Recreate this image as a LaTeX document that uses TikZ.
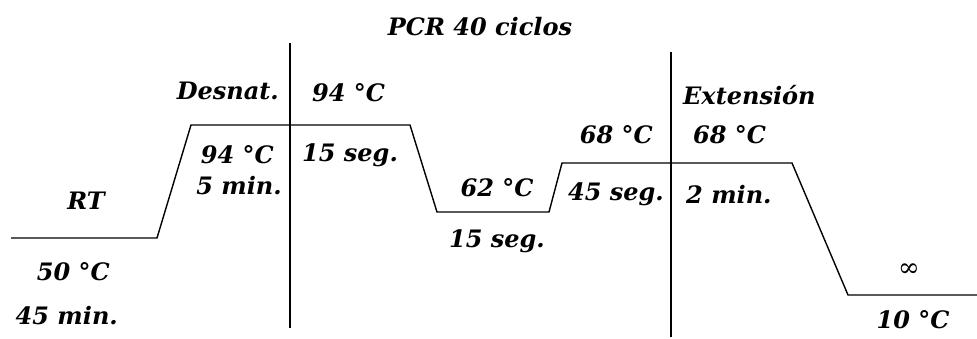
\documentclass[tikz,border=0pt]{standalone}
\usepackage{fontspec}
\setmainfont{DejaVu Serif}
\begin{document}
\begin{tikzpicture}[x=1pt,y=-1pt,
  lbl/.style={inner sep=0pt, font=\fontsize{24}{26}\selectfont\bfseries\itshape},
  prof/.style={line width=1.4pt, line join=miter},
  axis/.style={line width=1.4pt}]
\useasboundingbox (0,0) rectangle (977,339);
% profile coordinates
\coordinate (p0) at (11,238);
\coordinate (p1) at (157,238);
\coordinate (p2) at (191,125);
\coordinate (p3) at (410,125);
\coordinate (p4) at (437,212);
\coordinate (p5) at (549,212);
\coordinate (p6) at (562,163);
\coordinate (p7) at (792,163);
\coordinate (p8) at (848,295);
\coordinate (p9) at (977,295);
\draw[prof] (p0) -- (p1) -- (p2) -- (p3) -- (p4) -- (p5) -- (p6) -- (p7) -- (p8) -- (p9);
% vertical separators
\coordinate (v1t) at (290,43);
\coordinate (v1b) at (290,328);
\coordinate (v2t) at (671,52);
\coordinate (v2b) at (671,337);
\draw[axis] (v1t) -- (v1b);
\draw[axis] (v2t) -- (v2b);
% labels
\node[lbl] (pcr) at (480,27) {PCR 40 ciclos};
\node[lbl, anchor=east] (desn) at (279,91) {Desnat.};
\node[lbl, anchor=west] (t94a) at (312,93) {94 °C};
\node[lbl, anchor=east] (t94b) at (274,155) {94 °C};
\node[lbl, anchor=east] (m5) at (282,186) {5 min.};
\node[lbl, anchor=west] (s15a) at (302,155) {15 seg.};
\node[lbl] (rt) at (86,201) {RT};
\node[lbl, anchor=east] (t50) at (110,272) {50 °C};
\node[lbl, anchor=east] (m45) at (118,316) {45 min.};
\node[lbl] (t62) at (497,188) {62 °C};
\node[lbl] (s15b) at (497,241) {15 seg.};
\node[lbl, anchor=east] (t68a) at (653,135) {68 °C};
\node[lbl, anchor=east] (s45) at (664,194) {45 seg.};
\node[lbl, anchor=west] (ext) at (683,95) {Extensión};
\node[lbl, anchor=west] (t68b) at (693,135) {68 °C};
\node[lbl, anchor=west] (m2) at (686,195) {2 min.};
\node[lbl, font=\fontsize{26}{28}\selectfont] (inf) at (909,270) {∞};
\node[lbl] (t10) at (913,320) {10 °C};
\end{tikzpicture}
\end{document}
